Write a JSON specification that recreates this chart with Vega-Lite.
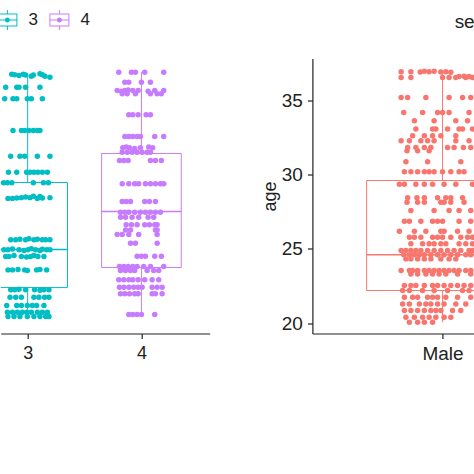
{
  "$schema": "https://vega.github.io/schema/vega-lite/v6.json",
  "background": "white",
  "padding": {"left": -3.3, "top": 9.5, "right": 0, "bottom": 5},
  "config": {
    "font": "Liberation Sans",
    "view": {"stroke": null},
    "axis": {
      "grid": false,
      "domainColor": "#222222",
      "domainWidth": 1.2,
      "tickColor": "#222222",
      "tickWidth": 1.2,
      "tickSize": 5,
      "labelColor": "#222222",
      "titleColor": "#222222",
      "labelFont": "Liberation Sans",
      "titleFont": "Liberation Sans",
      "titleFontWeight": "normal"
    }
  },
  "datasets": {
    "grpbox": [
      {"group": "3", "x": 3, "lower": 20.45, "q1": 22.4, "median": 24.96, "q3": 29.47, "upper": 36.72},
      {"group": "4", "x": 4, "lower": 20.59, "q1": 23.75, "median": 27.52, "q3": 31.42, "upper": 36.89}
    ],
    "sexbox": [
      {"sex": "Male", "x": 1, "lower": 20.07, "q1": 22.2, "median": 24.61, "q3": 29.6, "upper": 36.92}
    ],
    "grp": [
      {"group": "3", "x": 2.860, "age": 36.75}, {"group": "3", "x": 2.886, "age": 36.72}, {"group": "3", "x": 2.924, "age": 36.66},
      {"group": "3", "x": 2.962, "age": 36.75}, {"group": "3", "x": 2.982, "age": 36.70}, {"group": "3", "x": 3.032, "age": 36.62},
      {"group": "3", "x": 3.050, "age": 36.70}, {"group": "3", "x": 3.108, "age": 36.78}, {"group": "3", "x": 3.129, "age": 36.72},
      {"group": "3", "x": 3.152, "age": 36.62}, {"group": "3", "x": 3.196, "age": 36.55},
      {"group": "3", "x": 2.807, "age": 35.88}, {"group": "3", "x": 2.904, "age": 35.88}, {"group": "3", "x": 2.924, "age": 35.88},
      {"group": "3", "x": 2.982, "age": 35.88}, {"group": "3", "x": 3.108, "age": 35.88},
      {"group": "3", "x": 2.798, "age": 35.10}, {"group": "3", "x": 2.871, "age": 35.10}, {"group": "3", "x": 2.904, "age": 35.10},
      {"group": "3", "x": 2.997, "age": 35.10}, {"group": "3", "x": 3.032, "age": 35.10}, {"group": "3", "x": 3.129, "age": 35.10},
      {"group": "3", "x": 2.871, "age": 32.97}, {"group": "3", "x": 2.945, "age": 32.97}, {"group": "3", "x": 2.974, "age": 32.97},
      {"group": "3", "x": 3.011, "age": 32.97}, {"group": "3", "x": 3.050, "age": 32.97}, {"group": "3", "x": 3.085, "age": 32.97},
      {"group": "3", "x": 3.108, "age": 32.97},
      {"group": "3", "x": 2.851, "age": 31.24}, {"group": "3", "x": 2.932, "age": 31.24}, {"group": "3", "x": 2.974, "age": 31.24},
      {"group": "3", "x": 3.085, "age": 31.24}, {"group": "3", "x": 3.196, "age": 31.24},
      {"group": "3", "x": 2.831, "age": 30.16}, {"group": "3", "x": 2.904, "age": 30.16}, {"group": "3", "x": 2.991, "age": 30.16},
      {"group": "3", "x": 3.020, "age": 30.16}, {"group": "3", "x": 3.055, "age": 30.16}, {"group": "3", "x": 3.090, "age": 30.16},
      {"group": "3", "x": 3.129, "age": 30.16}, {"group": "3", "x": 3.173, "age": 30.16},
      {"group": "3", "x": 2.789, "age": 29.45}, {"group": "3", "x": 2.822, "age": 29.45}, {"group": "3", "x": 2.860, "age": 29.45},
      {"group": "3", "x": 3.050, "age": 29.45}, {"group": "3", "x": 3.138, "age": 29.45}, {"group": "3", "x": 3.182, "age": 29.45},
      {"group": "3", "x": 2.827, "age": 28.40}, {"group": "3", "x": 2.866, "age": 28.40}, {"group": "3", "x": 2.904, "age": 28.42},
      {"group": "3", "x": 2.945, "age": 28.45}, {"group": "3", "x": 2.982, "age": 28.50}, {"group": "3", "x": 3.020, "age": 28.45},
      {"group": "3", "x": 3.050, "age": 28.55}, {"group": "3", "x": 3.085, "age": 28.40}, {"group": "3", "x": 3.108, "age": 28.52},
      {"group": "3", "x": 3.129, "age": 28.42}, {"group": "3", "x": 3.196, "age": 28.45},
      {"group": "3", "x": 2.851, "age": 25.61}, {"group": "3", "x": 2.895, "age": 25.61}, {"group": "3", "x": 2.932, "age": 25.65},
      {"group": "3", "x": 2.982, "age": 25.61}, {"group": "3", "x": 3.011, "age": 25.68}, {"group": "3", "x": 3.055, "age": 25.61},
      {"group": "3", "x": 3.085, "age": 25.65}, {"group": "3", "x": 3.129, "age": 25.61}, {"group": "3", "x": 3.158, "age": 25.61},
      {"group": "3", "x": 3.196, "age": 25.61},
      {"group": "3", "x": 2.792, "age": 24.94}, {"group": "3", "x": 2.827, "age": 24.94}, {"group": "3", "x": 2.866, "age": 25.00},
      {"group": "3", "x": 2.924, "age": 24.94}, {"group": "3", "x": 2.968, "age": 24.90}, {"group": "3", "x": 3.003, "age": 24.94},
      {"group": "3", "x": 3.032, "age": 25.02}, {"group": "3", "x": 3.070, "age": 24.94}, {"group": "3", "x": 3.108, "age": 24.90},
      {"group": "3", "x": 3.129, "age": 24.98}, {"group": "3", "x": 3.167, "age": 24.94}, {"group": "3", "x": 3.196, "age": 24.94},
      {"group": "3", "x": 2.807, "age": 24.49}, {"group": "3", "x": 2.836, "age": 24.49}, {"group": "3", "x": 2.880, "age": 24.55},
      {"group": "3", "x": 2.945, "age": 24.49}, {"group": "3", "x": 2.991, "age": 24.45}, {"group": "3", "x": 3.026, "age": 24.49},
      {"group": "3", "x": 3.055, "age": 24.55}, {"group": "3", "x": 3.090, "age": 24.49}, {"group": "3", "x": 3.143, "age": 24.49},
      {"group": "3", "x": 2.827, "age": 23.59}, {"group": "3", "x": 2.866, "age": 23.59}, {"group": "3", "x": 2.915, "age": 23.62},
      {"group": "3", "x": 2.974, "age": 23.59}, {"group": "3", "x": 2.997, "age": 23.55}, {"group": "3", "x": 3.079, "age": 23.59},
      {"group": "3", "x": 3.108, "age": 23.62}, {"group": "3", "x": 3.167, "age": 23.59},
      {"group": "3", "x": 2.851, "age": 22.25}, {"group": "3", "x": 2.886, "age": 22.25}, {"group": "3", "x": 2.924, "age": 22.28},
      {"group": "3", "x": 2.982, "age": 22.25}, {"group": "3", "x": 3.061, "age": 22.25}, {"group": "3", "x": 3.108, "age": 22.22},
      {"group": "3", "x": 3.143, "age": 22.25}, {"group": "3", "x": 3.187, "age": 22.25},
      {"group": "3", "x": 2.845, "age": 21.75}, {"group": "3", "x": 2.895, "age": 21.75}, {"group": "3", "x": 2.945, "age": 21.75},
      {"group": "3", "x": 3.055, "age": 21.75}, {"group": "3", "x": 3.099, "age": 21.75}, {"group": "3", "x": 3.149, "age": 21.75},
      {"group": "3", "x": 3.187, "age": 21.75},
      {"group": "3", "x": 2.816, "age": 21.19}, {"group": "3", "x": 2.904, "age": 21.19}, {"group": "3", "x": 2.945, "age": 21.19},
      {"group": "3", "x": 2.997, "age": 21.19}, {"group": "3", "x": 3.041, "age": 21.19}, {"group": "3", "x": 3.079, "age": 21.19},
      {"group": "3", "x": 3.143, "age": 21.19},
      {"group": "3", "x": 2.822, "age": 20.74}, {"group": "3", "x": 2.866, "age": 20.74}, {"group": "3", "x": 2.910, "age": 20.74},
      {"group": "3", "x": 2.954, "age": 20.74}, {"group": "3", "x": 2.991, "age": 20.74}, {"group": "3", "x": 3.032, "age": 20.74},
      {"group": "3", "x": 3.085, "age": 20.74}, {"group": "3", "x": 3.129, "age": 20.74}, {"group": "3", "x": 3.173, "age": 20.74},
      {"group": "3", "x": 2.827, "age": 20.45}, {"group": "3", "x": 2.880, "age": 20.45}, {"group": "3", "x": 2.932, "age": 20.45},
      {"group": "3", "x": 2.997, "age": 20.45}, {"group": "3", "x": 3.055, "age": 20.45}, {"group": "3", "x": 3.108, "age": 20.45},
      {"group": "3", "x": 3.158, "age": 20.45}, {"group": "3", "x": 3.187, "age": 20.45},
      {"group": "4", "x": 3.801, "age": 36.89}, {"group": "4", "x": 3.912, "age": 36.89}, {"group": "4", "x": 3.947, "age": 36.89},
      {"group": "4", "x": 4.029, "age": 36.89}, {"group": "4", "x": 4.196, "age": 36.89},
      {"group": "4", "x": 3.854, "age": 36.22}, {"group": "4", "x": 3.889, "age": 36.22}, {"group": "4", "x": 4.000, "age": 36.22},
      {"group": "4", "x": 4.079, "age": 36.22},
      {"group": "4", "x": 3.787, "age": 35.66}, {"group": "4", "x": 3.825, "age": 35.60}, {"group": "4", "x": 3.854, "age": 35.66},
      {"group": "4", "x": 3.883, "age": 35.70}, {"group": "4", "x": 3.924, "age": 35.66}, {"group": "4", "x": 3.971, "age": 35.66},
      {"group": "4", "x": 4.059, "age": 35.60}, {"group": "4", "x": 4.117, "age": 35.66}, {"group": "4", "x": 4.196, "age": 35.66},
      {"group": "4", "x": 3.831, "age": 35.44}, {"group": "4", "x": 3.875, "age": 35.44}, {"group": "4", "x": 3.947, "age": 35.44},
      {"group": "4", "x": 4.079, "age": 35.44}, {"group": "4", "x": 4.138, "age": 35.44}, {"group": "4", "x": 4.175, "age": 35.44},
      {"group": "4", "x": 3.889, "age": 34.02}, {"group": "4", "x": 3.924, "age": 34.02}, {"group": "4", "x": 3.971, "age": 34.02},
      {"group": "4", "x": 4.041, "age": 34.02}, {"group": "4", "x": 4.079, "age": 34.02},
      {"group": "4", "x": 3.854, "age": 32.57}, {"group": "4", "x": 3.889, "age": 32.57}, {"group": "4", "x": 3.924, "age": 32.57},
      {"group": "4", "x": 3.962, "age": 32.57}, {"group": "4", "x": 3.991, "age": 32.57}, {"group": "4", "x": 4.117, "age": 32.57},
      {"group": "4", "x": 4.196, "age": 32.57},
      {"group": "4", "x": 3.836, "age": 31.80}, {"group": "4", "x": 3.866, "age": 31.85}, {"group": "4", "x": 3.895, "age": 31.80},
      {"group": "4", "x": 3.941, "age": 31.75}, {"group": "4", "x": 3.991, "age": 31.80}, {"group": "4", "x": 4.064, "age": 31.85},
      {"group": "4", "x": 4.099, "age": 31.80},
      {"group": "4", "x": 3.831, "age": 31.51}, {"group": "4", "x": 3.875, "age": 31.51}, {"group": "4", "x": 3.918, "age": 31.51},
      {"group": "4", "x": 3.962, "age": 31.51}, {"group": "4", "x": 4.006, "age": 31.51}, {"group": "4", "x": 4.050, "age": 31.51},
      {"group": "4", "x": 4.079, "age": 31.51},
      {"group": "4", "x": 3.807, "age": 30.95}, {"group": "4", "x": 3.845, "age": 30.95}, {"group": "4", "x": 3.883, "age": 30.95},
      {"group": "4", "x": 4.079, "age": 30.95}, {"group": "4", "x": 4.123, "age": 30.95}, {"group": "4", "x": 4.175, "age": 30.95},
      {"group": "4", "x": 3.831, "age": 29.38}, {"group": "4", "x": 3.889, "age": 29.38}, {"group": "4", "x": 3.941, "age": 29.38},
      {"group": "4", "x": 3.976, "age": 29.38}, {"group": "4", "x": 4.035, "age": 29.38}, {"group": "4", "x": 4.079, "age": 29.38},
      {"group": "4", "x": 4.123, "age": 29.38}, {"group": "4", "x": 4.167, "age": 29.38}, {"group": "4", "x": 4.196, "age": 29.38},
      {"group": "4", "x": 3.831, "age": 28.19}, {"group": "4", "x": 3.866, "age": 28.19}, {"group": "4", "x": 3.904, "age": 28.19},
      {"group": "4", "x": 4.029, "age": 28.19}, {"group": "4", "x": 4.070, "age": 28.19}, {"group": "4", "x": 4.123, "age": 28.19},
      {"group": "4", "x": 3.816, "age": 27.47}, {"group": "4", "x": 3.854, "age": 27.47}, {"group": "4", "x": 3.889, "age": 27.47},
      {"group": "4", "x": 3.941, "age": 27.47}, {"group": "4", "x": 3.991, "age": 27.47}, {"group": "4", "x": 4.035, "age": 27.47},
      {"group": "4", "x": 4.079, "age": 27.47}, {"group": "4", "x": 4.123, "age": 27.47}, {"group": "4", "x": 4.167, "age": 27.47},
      {"group": "4", "x": 3.816, "age": 27.13}, {"group": "4", "x": 3.860, "age": 27.13}, {"group": "4", "x": 3.918, "age": 27.13},
      {"group": "4", "x": 3.976, "age": 27.13}, {"group": "4", "x": 4.059, "age": 27.13}, {"group": "4", "x": 4.108, "age": 27.13},
      {"group": "4", "x": 3.866, "age": 26.62}, {"group": "4", "x": 3.912, "age": 26.62}, {"group": "4", "x": 3.962, "age": 26.62},
      {"group": "4", "x": 4.029, "age": 26.62}, {"group": "4", "x": 4.070, "age": 26.62}, {"group": "4", "x": 4.117, "age": 26.62},
      {"group": "4", "x": 4.138, "age": 26.62},
      {"group": "4", "x": 3.860, "age": 26.28}, {"group": "4", "x": 3.904, "age": 26.28}, {"group": "4", "x": 4.123, "age": 26.28},
      {"group": "4", "x": 4.138, "age": 26.28},
      {"group": "4", "x": 3.787, "age": 25.97}, {"group": "4", "x": 3.831, "age": 25.97}, {"group": "4", "x": 3.889, "age": 25.97},
      {"group": "4", "x": 3.976, "age": 25.97}, {"group": "4", "x": 4.138, "age": 25.97},
      {"group": "4", "x": 3.904, "age": 25.38}, {"group": "4", "x": 3.947, "age": 25.38}, {"group": "4", "x": 4.138, "age": 25.38},
      {"group": "4", "x": 3.962, "age": 24.51}, {"group": "4", "x": 4.000, "age": 24.51}, {"group": "4", "x": 4.035, "age": 24.51},
      {"group": "4", "x": 4.117, "age": 24.51}, {"group": "4", "x": 4.175, "age": 24.51},
      {"group": "4", "x": 3.807, "age": 23.82}, {"group": "4", "x": 3.845, "age": 23.82}, {"group": "4", "x": 3.883, "age": 23.82},
      {"group": "4", "x": 3.924, "age": 23.82}, {"group": "4", "x": 3.962, "age": 23.82}, {"group": "4", "x": 4.020, "age": 23.82},
      {"group": "4", "x": 4.079, "age": 23.82}, {"group": "4", "x": 4.196, "age": 23.82},
      {"group": "4", "x": 3.816, "age": 23.55}, {"group": "4", "x": 3.860, "age": 23.55}, {"group": "4", "x": 3.904, "age": 23.55},
      {"group": "4", "x": 3.941, "age": 23.55}, {"group": "4", "x": 4.050, "age": 23.55}, {"group": "4", "x": 4.108, "age": 23.55},
      {"group": "4", "x": 4.152, "age": 23.55},
      {"group": "4", "x": 3.801, "age": 22.92}, {"group": "4", "x": 3.845, "age": 22.92}, {"group": "4", "x": 3.889, "age": 22.92},
      {"group": "4", "x": 3.924, "age": 22.92}, {"group": "4", "x": 3.971, "age": 22.92}, {"group": "4", "x": 4.029, "age": 22.92},
      {"group": "4", "x": 4.094, "age": 22.92}, {"group": "4", "x": 4.152, "age": 22.92},
      {"group": "4", "x": 3.807, "age": 22.42}, {"group": "4", "x": 3.845, "age": 22.42}, {"group": "4", "x": 3.889, "age": 22.42},
      {"group": "4", "x": 3.932, "age": 22.42}, {"group": "4", "x": 3.971, "age": 22.42}, {"group": "4", "x": 4.006, "age": 22.42},
      {"group": "4", "x": 4.094, "age": 22.42}, {"group": "4", "x": 4.138, "age": 22.42}, {"group": "4", "x": 4.182, "age": 22.42},
      {"group": "4", "x": 3.816, "age": 21.98}, {"group": "4", "x": 3.854, "age": 21.98}, {"group": "4", "x": 3.895, "age": 21.98},
      {"group": "4", "x": 3.941, "age": 21.98}, {"group": "4", "x": 3.971, "age": 21.98}, {"group": "4", "x": 4.094, "age": 21.98},
      {"group": "4", "x": 4.123, "age": 21.98}, {"group": "4", "x": 4.182, "age": 21.98},
      {"group": "4", "x": 3.889, "age": 20.59}, {"group": "4", "x": 3.924, "age": 20.59}, {"group": "4", "x": 3.962, "age": 20.59},
      {"group": "4", "x": 4.000, "age": 20.59}, {"group": "4", "x": 4.117, "age": 20.59}
    ],
    "sex": [
      {"sex": "Male", "x": 0.809, "age": 36.92}, {"sex": "Male", "x": 0.854, "age": 36.92}, {"sex": "Male", "x": 0.897, "age": 36.90},
      {"sex": "Male", "x": 0.916, "age": 36.95}, {"sex": "Male", "x": 0.938, "age": 36.92}, {"sex": "Male", "x": 0.961, "age": 36.95},
      {"sex": "Male", "x": 0.992, "age": 36.90}, {"sex": "Male", "x": 1.015, "age": 36.92}, {"sex": "Male", "x": 1.038, "age": 36.88},
      {"sex": "Male", "x": 1.076, "age": 36.60}, {"sex": "Male", "x": 1.099, "age": 36.62}, {"sex": "Male", "x": 1.122, "age": 36.60},
      {"sex": "Male", "x": 0.809, "age": 36.53}, {"sex": "Male", "x": 0.854, "age": 36.53}, {"sex": "Male", "x": 1.000, "age": 36.53},
      {"sex": "Male", "x": 1.030, "age": 36.53}, {"sex": "Male", "x": 1.061, "age": 36.53}, {"sex": "Male", "x": 1.107, "age": 36.53},
      {"sex": "Male", "x": 1.138, "age": 36.53},
      {"sex": "Male", "x": 0.809, "age": 35.19}, {"sex": "Male", "x": 0.839, "age": 35.19}, {"sex": "Male", "x": 0.923, "age": 35.19},
      {"sex": "Male", "x": 1.030, "age": 35.19}, {"sex": "Male", "x": 1.092, "age": 35.19}, {"sex": "Male", "x": 1.130, "age": 35.19},
      {"sex": "Male", "x": 0.821, "age": 34.18}, {"sex": "Male", "x": 0.908, "age": 34.18}, {"sex": "Male", "x": 0.977, "age": 34.18},
      {"sex": "Male", "x": 1.000, "age": 34.18}, {"sex": "Male", "x": 1.030, "age": 34.18}, {"sex": "Male", "x": 1.122, "age": 34.18},
      {"sex": "Male", "x": 0.870, "age": 33.62}, {"sex": "Male", "x": 0.961, "age": 33.62}, {"sex": "Male", "x": 1.061, "age": 33.62},
      {"sex": "Male", "x": 1.115, "age": 33.62},
      {"sex": "Male", "x": 0.877, "age": 33.06}, {"sex": "Male", "x": 0.954, "age": 33.06}, {"sex": "Male", "x": 0.969, "age": 33.06},
      {"sex": "Male", "x": 1.023, "age": 33.06}, {"sex": "Male", "x": 1.076, "age": 33.06}, {"sex": "Male", "x": 1.092, "age": 33.06},
      {"sex": "Male", "x": 1.138, "age": 33.06},
      {"sex": "Male", "x": 0.862, "age": 32.61}, {"sex": "Male", "x": 0.916, "age": 32.61}, {"sex": "Male", "x": 0.954, "age": 32.61},
      {"sex": "Male", "x": 0.992, "age": 32.61}, {"sex": "Male", "x": 1.061, "age": 32.61},
      {"sex": "Male", "x": 0.809, "age": 32.27}, {"sex": "Male", "x": 0.847, "age": 32.27}, {"sex": "Male", "x": 0.900, "age": 32.27},
      {"sex": "Male", "x": 0.931, "age": 32.27}, {"sex": "Male", "x": 0.961, "age": 32.27}, {"sex": "Male", "x": 1.061, "age": 32.27},
      {"sex": "Male", "x": 1.122, "age": 32.27},
      {"sex": "Male", "x": 0.839, "age": 31.82}, {"sex": "Male", "x": 0.877, "age": 31.82}, {"sex": "Male", "x": 0.916, "age": 31.82},
      {"sex": "Male", "x": 0.946, "age": 31.82}, {"sex": "Male", "x": 1.023, "age": 31.82}, {"sex": "Male", "x": 1.053, "age": 31.82},
      {"sex": "Male", "x": 1.096, "age": 31.82}, {"sex": "Male", "x": 1.130, "age": 31.82},
      {"sex": "Male", "x": 0.836, "age": 31.60}, {"sex": "Male", "x": 0.885, "age": 31.60}, {"sex": "Male", "x": 0.938, "age": 31.60},
      {"sex": "Male", "x": 0.831, "age": 30.86}, {"sex": "Male", "x": 0.931, "age": 30.86}, {"sex": "Male", "x": 1.084, "age": 30.86},
      {"sex": "Male", "x": 0.824, "age": 30.19}, {"sex": "Male", "x": 0.854, "age": 30.19}, {"sex": "Male", "x": 0.885, "age": 30.19},
      {"sex": "Male", "x": 0.916, "age": 30.19}, {"sex": "Male", "x": 0.938, "age": 30.19}, {"sex": "Male", "x": 0.961, "age": 30.19},
      {"sex": "Male", "x": 1.000, "age": 30.19}, {"sex": "Male", "x": 1.038, "age": 30.19}, {"sex": "Male", "x": 1.076, "age": 30.19},
      {"sex": "Male", "x": 1.099, "age": 30.19},
      {"sex": "Male", "x": 0.801, "age": 29.35}, {"sex": "Male", "x": 0.824, "age": 29.35}, {"sex": "Male", "x": 0.877, "age": 29.35},
      {"sex": "Male", "x": 0.916, "age": 29.35}, {"sex": "Male", "x": 0.954, "age": 29.35}, {"sex": "Male", "x": 1.007, "age": 29.35},
      {"sex": "Male", "x": 1.061, "age": 29.35}, {"sex": "Male", "x": 1.138, "age": 29.35},
      {"sex": "Male", "x": 0.839, "age": 28.44}, {"sex": "Male", "x": 0.882, "age": 28.44}, {"sex": "Male", "x": 0.916, "age": 28.44},
      {"sex": "Male", "x": 0.977, "age": 28.44}, {"sex": "Male", "x": 1.015, "age": 28.44}, {"sex": "Male", "x": 1.038, "age": 28.44},
      {"sex": "Male", "x": 1.092, "age": 28.44},
      {"sex": "Male", "x": 0.836, "age": 28.14}, {"sex": "Male", "x": 0.885, "age": 28.14}, {"sex": "Male", "x": 0.916, "age": 28.14},
      {"sex": "Male", "x": 0.992, "age": 28.14}, {"sex": "Male", "x": 1.007, "age": 28.14}, {"sex": "Male", "x": 1.038, "age": 28.14},
      {"sex": "Male", "x": 1.099, "age": 28.14},
      {"sex": "Male", "x": 0.854, "age": 27.58}, {"sex": "Male", "x": 0.961, "age": 27.58}, {"sex": "Male", "x": 1.030, "age": 27.58},
      {"sex": "Male", "x": 1.076, "age": 27.58}, {"sex": "Male", "x": 1.130, "age": 27.58},
      {"sex": "Male", "x": 0.824, "age": 26.86}, {"sex": "Male", "x": 0.847, "age": 26.86}, {"sex": "Male", "x": 0.900, "age": 26.86},
      {"sex": "Male", "x": 0.954, "age": 26.86}, {"sex": "Male", "x": 0.977, "age": 26.86}, {"sex": "Male", "x": 1.000, "age": 26.86},
      {"sex": "Male", "x": 1.076, "age": 26.86}, {"sex": "Male", "x": 1.130, "age": 26.86},
      {"sex": "Male", "x": 0.801, "age": 26.19}, {"sex": "Male", "x": 0.870, "age": 26.19}, {"sex": "Male", "x": 0.923, "age": 26.19},
      {"sex": "Male", "x": 0.992, "age": 26.19}, {"sex": "Male", "x": 1.007, "age": 26.19}, {"sex": "Male", "x": 1.069, "age": 26.19},
      {"sex": "Male", "x": 1.122, "age": 26.19},
      {"sex": "Male", "x": 0.847, "age": 25.79}, {"sex": "Male", "x": 0.870, "age": 25.79}, {"sex": "Male", "x": 0.900, "age": 25.79},
      {"sex": "Male", "x": 0.954, "age": 25.79}, {"sex": "Male", "x": 0.977, "age": 25.79}, {"sex": "Male", "x": 1.000, "age": 25.79},
      {"sex": "Male", "x": 1.038, "age": 25.79}, {"sex": "Male", "x": 1.084, "age": 25.79}, {"sex": "Male", "x": 1.115, "age": 25.79},
      {"sex": "Male", "x": 1.138, "age": 25.79},
      {"sex": "Male", "x": 0.854, "age": 25.34}, {"sex": "Male", "x": 0.908, "age": 25.34}, {"sex": "Male", "x": 0.938, "age": 25.34},
      {"sex": "Male", "x": 0.961, "age": 25.34}, {"sex": "Male", "x": 0.992, "age": 25.34}, {"sex": "Male", "x": 1.015, "age": 25.34},
      {"sex": "Male", "x": 1.076, "age": 25.34}, {"sex": "Male", "x": 1.107, "age": 25.34}, {"sex": "Male", "x": 1.138, "age": 25.34},
      {"sex": "Male", "x": 0.809, "age": 24.89}, {"sex": "Male", "x": 0.831, "age": 24.89}, {"sex": "Male", "x": 0.854, "age": 24.89},
      {"sex": "Male", "x": 0.877, "age": 24.89}, {"sex": "Male", "x": 0.900, "age": 24.89}, {"sex": "Male", "x": 0.931, "age": 24.89},
      {"sex": "Male", "x": 0.961, "age": 24.89}, {"sex": "Male", "x": 0.992, "age": 24.89}, {"sex": "Male", "x": 1.023, "age": 24.89},
      {"sex": "Male", "x": 1.053, "age": 24.89}, {"sex": "Male", "x": 1.084, "age": 24.89}, {"sex": "Male", "x": 1.122, "age": 24.89},
      {"sex": "Male", "x": 1.138, "age": 24.89},
      {"sex": "Male", "x": 0.821, "age": 24.60}, {"sex": "Male", "x": 0.847, "age": 24.60}, {"sex": "Male", "x": 0.870, "age": 24.60},
      {"sex": "Male", "x": 0.893, "age": 24.60}, {"sex": "Male", "x": 0.916, "age": 24.60}, {"sex": "Male", "x": 0.946, "age": 24.60},
      {"sex": "Male", "x": 0.977, "age": 24.60}, {"sex": "Male", "x": 1.007, "age": 24.60}, {"sex": "Male", "x": 1.038, "age": 24.60},
      {"sex": "Male", "x": 1.069, "age": 24.60}, {"sex": "Male", "x": 1.107, "age": 24.60}, {"sex": "Male", "x": 1.130, "age": 24.60},
      {"sex": "Male", "x": 0.831, "age": 24.33}, {"sex": "Male", "x": 0.854, "age": 24.33}, {"sex": "Male", "x": 0.885, "age": 24.33},
      {"sex": "Male", "x": 0.916, "age": 24.33}, {"sex": "Male", "x": 0.946, "age": 24.33}, {"sex": "Male", "x": 0.992, "age": 24.33},
      {"sex": "Male", "x": 1.030, "age": 24.33}, {"sex": "Male", "x": 1.061, "age": 24.33},
      {"sex": "Male", "x": 0.809, "age": 23.55}, {"sex": "Male", "x": 0.847, "age": 23.55}, {"sex": "Male", "x": 0.862, "age": 23.55},
      {"sex": "Male", "x": 0.885, "age": 23.55}, {"sex": "Male", "x": 0.916, "age": 23.55}, {"sex": "Male", "x": 0.938, "age": 23.55},
      {"sex": "Male", "x": 0.961, "age": 23.55}, {"sex": "Male", "x": 0.984, "age": 23.55}, {"sex": "Male", "x": 1.007, "age": 23.55},
      {"sex": "Male", "x": 1.030, "age": 23.55}, {"sex": "Male", "x": 1.053, "age": 23.55}, {"sex": "Male", "x": 1.076, "age": 23.55},
      {"sex": "Male", "x": 1.107, "age": 23.55}, {"sex": "Male", "x": 1.130, "age": 23.55},
      {"sex": "Male", "x": 0.854, "age": 23.32}, {"sex": "Male", "x": 0.885, "age": 23.32}, {"sex": "Male", "x": 0.923, "age": 23.32},
      {"sex": "Male", "x": 0.954, "age": 23.32}, {"sex": "Male", "x": 0.984, "age": 23.32}, {"sex": "Male", "x": 1.015, "age": 23.32},
      {"sex": "Male", "x": 1.069, "age": 23.32}, {"sex": "Male", "x": 1.130, "age": 23.32},
      {"sex": "Male", "x": 0.824, "age": 22.54}, {"sex": "Male", "x": 0.854, "age": 22.54}, {"sex": "Male", "x": 0.877, "age": 22.54},
      {"sex": "Male", "x": 0.916, "age": 22.54}, {"sex": "Male", "x": 0.954, "age": 22.54}, {"sex": "Male", "x": 0.977, "age": 22.54},
      {"sex": "Male", "x": 1.007, "age": 22.54}, {"sex": "Male", "x": 1.038, "age": 22.54}, {"sex": "Male", "x": 1.069, "age": 22.54},
      {"sex": "Male", "x": 1.099, "age": 22.54}, {"sex": "Male", "x": 1.130, "age": 22.54},
      {"sex": "Male", "x": 0.816, "age": 22.20}, {"sex": "Male", "x": 0.847, "age": 22.20}, {"sex": "Male", "x": 0.908, "age": 22.20},
      {"sex": "Male", "x": 0.961, "age": 22.20}, {"sex": "Male", "x": 1.023, "age": 22.20}, {"sex": "Male", "x": 1.092, "age": 22.20},
      {"sex": "Male", "x": 1.122, "age": 22.20},
      {"sex": "Male", "x": 0.824, "age": 21.75}, {"sex": "Male", "x": 0.862, "age": 21.75}, {"sex": "Male", "x": 0.885, "age": 21.75},
      {"sex": "Male", "x": 0.931, "age": 21.75}, {"sex": "Male", "x": 0.954, "age": 21.75}, {"sex": "Male", "x": 0.977, "age": 21.75},
      {"sex": "Male", "x": 1.015, "age": 21.75}, {"sex": "Male", "x": 1.069, "age": 21.75}, {"sex": "Male", "x": 1.130, "age": 21.75},
      {"sex": "Male", "x": 0.816, "age": 21.30}, {"sex": "Male", "x": 0.847, "age": 21.30}, {"sex": "Male", "x": 0.893, "age": 21.30},
      {"sex": "Male", "x": 0.923, "age": 21.30}, {"sex": "Male", "x": 0.946, "age": 21.30}, {"sex": "Male", "x": 0.977, "age": 21.30},
      {"sex": "Male", "x": 1.007, "age": 21.30}, {"sex": "Male", "x": 1.061, "age": 21.30}, {"sex": "Male", "x": 1.107, "age": 21.30},
      {"sex": "Male", "x": 0.824, "age": 20.85}, {"sex": "Male", "x": 0.854, "age": 20.85}, {"sex": "Male", "x": 0.885, "age": 20.85},
      {"sex": "Male", "x": 0.916, "age": 20.85}, {"sex": "Male", "x": 0.946, "age": 20.85}, {"sex": "Male", "x": 0.969, "age": 20.85},
      {"sex": "Male", "x": 0.992, "age": 20.85}, {"sex": "Male", "x": 1.046, "age": 20.85}, {"sex": "Male", "x": 1.084, "age": 20.85},
      {"sex": "Male", "x": 0.831, "age": 20.40}, {"sex": "Male", "x": 0.870, "age": 20.40}, {"sex": "Male", "x": 0.908, "age": 20.40},
      {"sex": "Male", "x": 0.938, "age": 20.40}, {"sex": "Male", "x": 0.969, "age": 20.40}, {"sex": "Male", "x": 1.007, "age": 20.40},
      {"sex": "Male", "x": 1.038, "age": 20.40},
      {"sex": "Male", "x": 0.847, "age": 20.07}, {"sex": "Male", "x": 0.885, "age": 20.07}, {"sex": "Male", "x": 0.916, "age": 20.07},
      {"sex": "Male", "x": 0.954, "age": 20.07}
    ]
  },
  "spacing": 102.7,
  "bounds": "flush",
  "resolve": {"scale": {"color": "independent", "y": "independent"}, "legend": {"color": "independent"}},
  "hconcat": [
    {
      "width": 209,
      "height": 275,
      "layer": [
        {
          "data": {"name": "grpbox"},
          "mark": {"type": "rule", "strokeWidth": 1, "clip": true},
          "encoding": {
            "x": {"field": "x", "type": "quantitative", "title": null,
                  "scale": {"domain": [2.763, 4.6], "nice": false, "zero": false},
                  "axis": {"values": [3, 4], "format": "d", "labelFontSize": 18, "labelPadding": 6}},
            "y": {"field": "lower", "type": "quantitative", "title": null,
                  "scale": {"domain": [19.31, 37.81], "nice": false, "zero": false}, "axis": null},
            "y2": {"field": "q1"},
            "color": {"field": "group", "type": "nominal",
                      "scale": {"domain": ["3", "4"], "range": ["#00BFC4", "#C77CFF"]},
                      "legend": {
                        "orient": "none", "legendX": -3.3, "legendY": -48.5, "direction": "horizontal",
                        "title": null, "padding": 0,
                        "symbolType": "M-1,-0.65H1V0.65H-1ZM-0.9,-0.55V0.55H0.9V-0.55ZM-0.9,-0.05H0.9V0.05H-0.9ZM-0.05,-1H0.05V-0.65H-0.05ZM-0.05,0.65H0.05V1H-0.05ZM0.25,0A0.25,0.25 0 1 1 -0.25,0A0.25,0.25 0 1 1 0.25,0Z",
                        "symbolSize": 400, "symbolStrokeWidth": 0, "symbolOpacity": 1,
                        "labelFontSize": 17, "labelColor": "#222222", "labelOffset": 11, "columnPadding": 11
                      }}
          }
        },
        {
          "data": {"name": "grpbox"},
          "mark": {"type": "rule", "strokeWidth": 1, "clip": true},
          "encoding": {
            "x": {"field": "x", "type": "quantitative", "title": null},
            "y": {"field": "q3", "type": "quantitative", "title": null},
            "y2": {"field": "upper"},
            "color": {"field": "group", "type": "nominal"}
          }
        },
        {
          "data": {"name": "grpbox"},
          "transform": [
            {"calculate": "datum.x - 0.35", "as": "xl"},
            {"calculate": "datum.x + 0.35", "as": "xr"}
          ],
          "mark": {"type": "rect", "filled": false, "strokeWidth": 1, "clip": true},
          "encoding": {
            "x": {"field": "xl", "type": "quantitative", "title": null},
            "x2": {"field": "xr"},
            "y": {"field": "q1", "type": "quantitative", "title": null},
            "y2": {"field": "q3"},
            "color": {"field": "group", "type": "nominal"}
          }
        },
        {
          "data": {"name": "grpbox"},
          "transform": [
            {"calculate": "datum.x - 0.35", "as": "xl"},
            {"calculate": "datum.x + 0.35", "as": "xr"}
          ],
          "mark": {"type": "rule", "strokeWidth": 1.6, "clip": true},
          "encoding": {
            "x": {"field": "xl", "type": "quantitative", "title": null},
            "x2": {"field": "xr"},
            "y": {"field": "median", "type": "quantitative", "title": null},
            "color": {"field": "group", "type": "nominal"}
          }
        },
        {
          "data": {"name": "grp"},
          "mark": {"type": "circle", "size": 30, "opacity": 1, "clip": true},
          "encoding": {
            "x": {"field": "x", "type": "quantitative", "title": null},
            "y": {"field": "age", "type": "quantitative", "title": null},
            "color": {"field": "group", "type": "nominal"}
          }
        }
      ]
    },
    {
      "width": 162.3,
      "height": 275,
      "title": {"text": "se", "anchor": "end", "frame": "group", "fontSize": 19, "fontWeight": "normal",
                "font": "Liberation Sans", "color": "#222222", "offset": 27},
      "layer": [
        {
          "data": {"name": "sexbox"},
          "mark": {"type": "rule", "strokeWidth": 1, "color": "#F8766D", "clip": true},
          "encoding": {
            "x": {"field": "x", "type": "quantitative", "title": null,
                  "scale": {"domain": [0.4, 1.148], "nice": false, "zero": false},
                  "axis": {"values": [1], "labelExpr": "'Male'", "labelFontSize": 19, "labelPadding": 6}},
            "y": {"field": "lower", "type": "quantitative", "title": "age",
                  "scale": {"domain": [19.31, 37.81], "nice": false, "zero": false},
                  "axis": {"values": [20, 25, 30, 35], "labelFontSize": 19, "labelPadding": 5,
                           "titleFontSize": 18, "titlePadding": 2}},
            "y2": {"field": "q1"}
          }
        },
        {
          "data": {"name": "sexbox"},
          "mark": {"type": "rule", "strokeWidth": 1, "color": "#F8766D", "clip": true},
          "encoding": {
            "x": {"field": "x", "type": "quantitative", "title": null},
            "y": {"field": "q3", "type": "quantitative", "title": "age"},
            "y2": {"field": "upper"}
          }
        },
        {
          "data": {"name": "sexbox"},
          "transform": [
            {"calculate": "datum.x - 0.35", "as": "xl"},
            {"calculate": "datum.x + 0.35", "as": "xr"}
          ],
          "mark": {"type": "rect", "filled": false, "strokeWidth": 1, "color": "#F8766D", "clip": true},
          "encoding": {
            "x": {"field": "xl", "type": "quantitative", "title": null},
            "x2": {"field": "xr"},
            "y": {"field": "q1", "type": "quantitative", "title": "age"},
            "y2": {"field": "q3"}
          }
        },
        {
          "data": {"name": "sexbox"},
          "transform": [
            {"calculate": "datum.x - 0.35", "as": "xl"},
            {"calculate": "datum.x + 0.35", "as": "xr"}
          ],
          "mark": {"type": "rule", "strokeWidth": 1.6, "color": "#F8766D", "clip": true},
          "encoding": {
            "x": {"field": "xl", "type": "quantitative", "title": null},
            "x2": {"field": "xr"},
            "y": {"field": "median", "type": "quantitative", "title": "age"}
          }
        },
        {
          "data": {"name": "sex"},
          "mark": {"type": "circle", "size": 30, "opacity": 1, "color": "#F8766D", "clip": true},
          "encoding": {
            "x": {"field": "x", "type": "quantitative", "title": null},
            "y": {"field": "age", "type": "quantitative", "title": "age"}
          }
        }
      ]
    }
  ]
}
